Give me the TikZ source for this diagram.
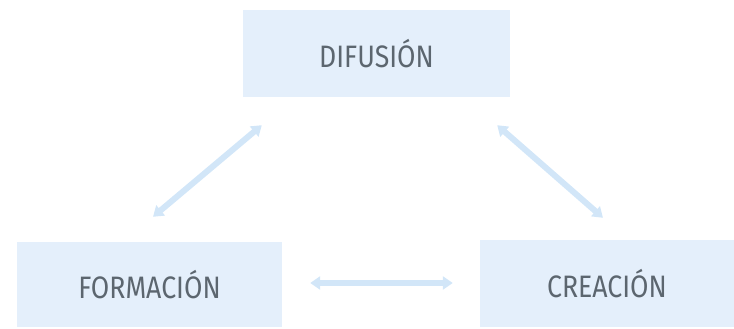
\documentclass[tikz,border=0pt]{standalone}
\usepackage{fontspec}
\setmainfont[FakeStretch=0.86]{Fira Sans}
\usepackage{xcolor}
\usetikzlibrary{arrows.meta,positioning}
\definecolor{dfBox}{HTML}{E4EFFB}
\definecolor{dfArrow}{HTML}{D2E6F8}
\definecolor{dfInk}{HTML}{5C666F}

\begin{document}
\begin{tikzpicture}[x=1pt,y=1pt,
    box/.style={fill=dfBox,draw=none,inner sep=0pt,text=dfInk,
      font=\fontsize{31}{36}\selectfont},
    link/.style={dfArrow,line width=6pt,
      {Triangle[width=13pt,length=10pt]}-{Triangle[width=13pt,length=10pt]}}]
  \useasboundingbox (0,0) rectangle (734,329);
  \node[box,minimum width=267pt,minimum height=87pt] (dif) at (376.5,275.5) {DIFUSIÓN};
  \node[box,minimum width=265pt,minimum height=85pt] (form) at (149.5,44.5) {FORMACIÓN};
  \node[box,minimum width=254pt,minimum height=87pt] (crea) at (607,45.5) {CREACIÓN};
  \draw[link] ([shift={(3.5,25)}]form.north) -- ([shift={(19,-28)}]dif.south west);
  \draw[link] ([shift={(-13,-28)}]dif.south east) -- ([shift={(-4,22)}]crea.north);
  \draw[link] ([shift={(28,1.5)}]form.east) -- ([shift={(-27,0.5)}]crea.west);
\end{tikzpicture}
\end{document}
